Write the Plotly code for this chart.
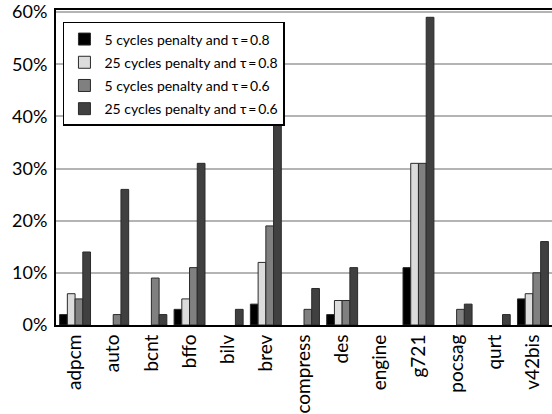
import plotly.graph_objects as go

# Benchmarks on the x axis
benchmarks = ["adpcm", "auto", "bcnt", "bffo", "bilv", "brev", "compress",
              "des", "engine", "g721", "pocsag", "qurt", "v42bis"]

# Overhead (%) per configuration
p5_t08 = [2, 0, 0, 3, 0, 4, 0, 2, 0, 11, 0, 0, 5]
p25_t08 = [6, 0, 0, 5, 0, 12, 0, 4.7, 0, 31, 0, 0, 6]
p5_t06 = [5, 2, 9, 11, 0, 19, 3, 4.7, 0, 31, 3, 0, 10]
p25_t06 = [14, 26, 2, 31, 3, 44, 7, 11, 0, 59, 4, 2, 16]

TS = "\u2009"  # thin space around the equals sign
series_names = [
    f"5 cycles penalty and \u03c4{TS}={TS}0.8",
    f"25 cycles penalty and \u03c4{TS}={TS}0.8",
    f"5 cycles penalty and \u03c4{TS}={TS}0.6",
    f"25 cycles penalty and \u03c4{TS}={TS}0.6",
]
series_values = [p5_t08, p25_t08, p5_t06, p25_t06]
series_colors = ["#000000", "#dcdcdc", "#808080", "#404040"]

y_ticks = [0, 10, 20, 30, 40, 50, 60]
y_tick_labels = ["0%", "10%", "20%", "30%", "40%", "50%", "60%"]

FONT = "Lato"

fig = go.Figure()
for i, (name, vals, color) in enumerate(zip(series_names, series_values, series_colors)):
    fig.add_trace(go.Bar(
        x=benchmarks, y=vals, name=name, legendgroup=f"g{i}",
        marker=dict(
            color=color,
            # empty bars get no outline so nothing shows at the baseline
            line=dict(color="#2a2a2a", width=[1 if v > 0 else 0 for v in vals]),
        ),
    ))

fig.update_layout(
    width=552, height=414,
    margin=dict(l=56, r=0, t=8, b=89),
    paper_bgcolor="white", plot_bgcolor="white",
    barmode="group", bargap=0.19, bargroupgap=0,
    font=dict(family=FONT, size=18, color="black"),
    showlegend=True,
    legend=dict(
        x=0.014, y=0.962, xanchor="left", yanchor="top",
        bgcolor="white", bordercolor="black", borderwidth=1.5,
        font=dict(family=FONT, size=14, color="black"),
        tracegroupgap=2, itemwidth=30,
    ),
)

fig.update_xaxes(
    type="category", tickangle=-90, showgrid=False,
    showline=True, linecolor="black", linewidth=2, mirror=True,
    ticks="", automargin=False, tickfont=dict(family=FONT, size=19),
)
fig.update_yaxes(
    range=[0, 60.4], tickvals=y_ticks, ticktext=y_tick_labels,
    showgrid=True, gridcolor="#b4b4b4", gridwidth=2,
    showline=True, linecolor="black", linewidth=2,
    ticks="", ticklabelstandoff=3, zeroline=False,
    ticklabeloverflow="allow",
    tickfont=dict(family=FONT, size=18),
)

fig.write_html("out.html")
